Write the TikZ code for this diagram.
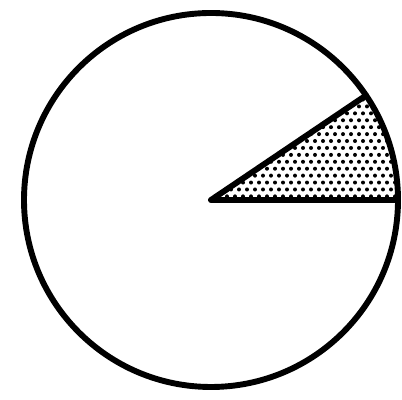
\documentclass[tikz,border=0pt]{standalone}
\usetikzlibrary{calc}
\tikzset{
  rim/.style={line width=4.2pt},
  wedge/.style={line width=4.2pt,line join=round,line cap=round},
  speck/.style={fill=black},
}
\begin{document}
\begin{tikzpicture}
  \useasboundingbox (0,0) rectangle (10.05,10);
  \def\R{4.675}
  \def\ang{34}
  \coordinate (O) at (5.275,5.0);
  \coordinate (E) at ($(O)+(0:\R)$);
  \coordinate (T) at ($(O)+(\ang:\R)$);
  %% dotted slice
  \begin{scope}
    \clip (O) -- (E) arc (0:\ang:\R) -- cycle;
    \foreach \j [evaluate=\j as \xo using {mod(\j,2)*0.1}] in {0,...,16}{
      \foreach \i in {0,...,24}{
        \fill[speck,shift={(O)}] ({\i*0.2+\xo},{\j*0.173+0.09}) circle (0.05);
      }
    }
  \end{scope}
  %% outline
  \draw[rim] (O) circle (\R);
  \draw[wedge] (E) -- (O) -- (T);
\end{tikzpicture}
\end{document}
